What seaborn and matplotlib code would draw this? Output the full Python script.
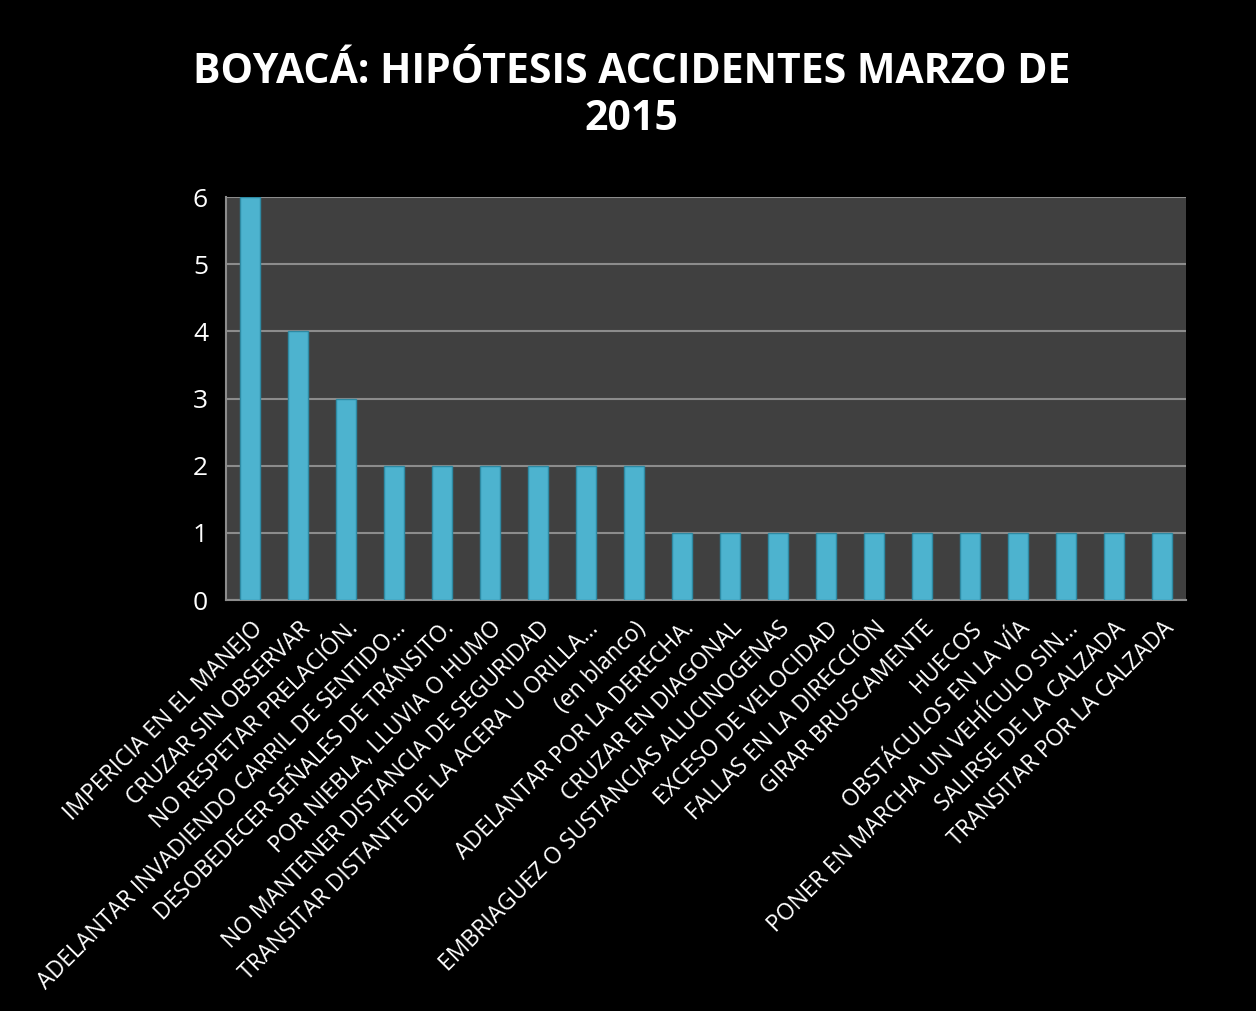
import matplotlib
matplotlib.use("Agg")
import matplotlib.pyplot as plt
import seaborn as sns
import pandas as pd
import numpy as np

# Data
categories = [
    "IMPERICIA EN EL MANEJO",
    "CRUZAR SIN OBSERVAR",
    "NO RESPETAR PRELACIÓN.",
    "ADELANTAR INVADIENDO CARRIL DE SENTIDO...",
    "DESOBEDECER SEÑALES DE TRÁNSITO.",
    "POR NIEBLA, LLUVIA O HUMO",
    "NO MANTENER DISTANCIA DE SEGURIDAD",
    "TRANSITAR DISTANTE DE LA ACERA U ORILLA...",
    "(en blanco)",
    "ADELANTAR POR LA DERECHA.",
    "CRUZAR EN DIAGONAL",
    "EMBRIAGUEZ O SUSTANCIAS ALUCINOGENAS",
    "EXCESO DE VELOCIDAD",
    "FALLAS EN LA DIRECCIÓN",
    "GIRAR BRUSCAMENTE",
    "HUECOS",
    "OBSTÁCULOS EN LA VÍA",
    "PONER EN MARCHA UN VEHÍCULO SIN...",
    "SALIRSE DE LA CALZADA",
    "TRANSITAR POR LA CALZADA",
]
values = [6, 4, 3, 2, 2, 2, 2, 2, 2, 1, 1, 1, 1, 1, 1, 1, 1, 1, 1, 1]
y_ticks = [0, 1, 2, 3, 4, 5, 6]

df = pd.DataFrame({"hipotesis": categories, "casos": values})

sns.set_style("dark")
plt.rcParams["font.family"] = ["Open Sans", "DejaVu Sans"]

fig = plt.figure(figsize=(12.56, 10.11), dpi=100, facecolor="black")
ax = fig.add_axes([0.18, 0.4065, 0.7643, 0.3986])
ax.set_facecolor("#404040")

sns.barplot(data=df, x="hipotesis", y="casos", color="#4DB3CF", width=0.42,
            saturation=1, edgecolor="#2E8AA3", linewidth=1, ax=ax, zorder=3)

ax.set_ylim(0, 6)
ax.set_xlim(-0.5, len(categories) - 0.5)
ax.set_yticks(y_ticks)
ax.yaxis.grid(True, color="#8C8C8C", linewidth=1.5, zorder=0)
ax.xaxis.grid(False)

for side in ["top", "right"]:
    ax.spines[side].set_visible(False)
for side in ["left", "bottom"]:
    ax.spines[side].set_color("#8C8C8C")
    ax.spines[side].set_linewidth(1.5)

ax.set_xticks(np.arange(len(categories)))
ax.set_xticks(np.arange(len(categories) + 1) - 0.5, minor=True)
ax.tick_params(axis="x", which="major", length=0, pad=12)
ax.tick_params(axis="x", which="minor", length=7, color="#8C8C8C", width=1.5)
ax.set_yticklabels([str(v) for v in y_ticks], color="white", fontsize=19)
ax.tick_params(axis="y", length=7, color="#8C8C8C", width=1.5, pad=6)
ax.set_xticklabels(categories, rotation=45, ha="right", rotation_mode="anchor",
                   color="white", fontsize=16.5)

ax.set_xlabel("")
ax.set_ylabel("")

fig.text(0.503, 0.905, "BOYACÁ: HIPÓTESIS ACCIDENTES MARZO DE\n2015",
         ha="center", va="center", color="white", fontsize=29.5,
         fontweight="bold", linespacing=1.2)

fig.savefig("out.png", dpi=100, facecolor="black")
